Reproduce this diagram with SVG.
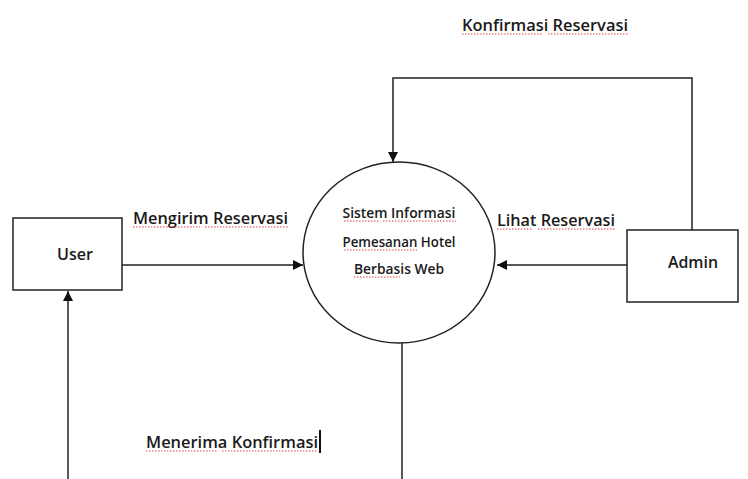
<svg xmlns="http://www.w3.org/2000/svg" width="748" height="479" viewBox="0 0 748 479">
<style>
text{font-family:"Open Sans","Liberation Sans",sans-serif;fill:#1a1a1a;font-weight:600;}
.lbl{font-size:16px;}
.proc{font-size:13.5px;}
.node{fill:#fff;stroke:#222;stroke-width:1.5;}
.edge{fill:none;stroke:#222;stroke-width:1.5;}
.sp{fill:none;stroke:#e04040;stroke-width:1;stroke-dasharray:1.5 1.5;}
</style>
<defs>
<marker id="ah" viewBox="0 0 10 10" refX="10" refY="5" markerWidth="10" markerHeight="10" markerUnits="userSpaceOnUse" orient="auto">
<path d="M0,0 L10,5 L0,10 z" fill="#111"/>
</marker>
</defs>
<rect width="748" height="479" fill="#fff"/>
<g id="connectors">
<line class="edge" x1="122" y1="265" x2="303" y2="265" marker-end="url(#ah)"/>
<line class="edge" x1="627" y1="265" x2="497" y2="265" marker-end="url(#ah)"/>
<polyline class="edge" points="692,230 692,78 393,78 393,162" marker-end="url(#ah)"/>
<line class="edge" x1="402" y1="343" x2="402" y2="479"/>
<line class="edge" x1="68" y1="479" x2="68" y2="291" marker-end="url(#ah)"/>
</g>
<g id="user">
<rect class="node" x="13" y="218" width="109" height="72"/>
<text class="lbl" x="75" y="260" text-anchor="middle" textLength="36" lengthAdjust="spacingAndGlyphs">User</text>
</g>
<g id="admin">
<rect class="node" x="627" y="230" width="111" height="72"/>
<text class="lbl" x="693" y="268" text-anchor="middle" textLength="50" lengthAdjust="spacingAndGlyphs">Admin</text>
</g>
<g id="process">
<ellipse class="node" cx="399" cy="252.5" rx="96" ry="90.5"/>
<text class="proc" x="399" y="218" text-anchor="middle" textLength="113" lengthAdjust="spacingAndGlyphs">Sistem Informasi</text>
<text class="proc" x="399" y="247" text-anchor="middle" textLength="113" lengthAdjust="spacingAndGlyphs">Pemesanan Hotel</text>
<text class="proc" x="399" y="274" text-anchor="middle" textLength="90" lengthAdjust="spacingAndGlyphs">Berbasis Web</text>
<path class="sp" d="M344 221 h35 M383 221 h73 M344 250 h73 M354 277 h46"/>
</g>
<g id="labels">
<text class="lbl" x="133" y="224" textLength="155" lengthAdjust="spacingAndGlyphs">Mengirim Reservasi</text>
<text class="lbl" x="497" y="226" textLength="118" lengthAdjust="spacingAndGlyphs">Lihat Reservasi</text>
<text class="lbl" x="462" y="31" textLength="166" lengthAdjust="spacingAndGlyphs">Konfirmasi Reservasi</text>
<text class="lbl" x="146" y="448" textLength="172" lengthAdjust="spacingAndGlyphs">Menerima Konfirmasi</text>
<rect x="319" y="430" width="2" height="23" fill="#111"/>
<path class="sp" d="M133 227 h67 M205 227 h83 M497 229 h36 M538 229 h77 M462 34 h80 M548 34 h80 M146 451 h72 M222 451 h96"/>
</g>
</svg>
